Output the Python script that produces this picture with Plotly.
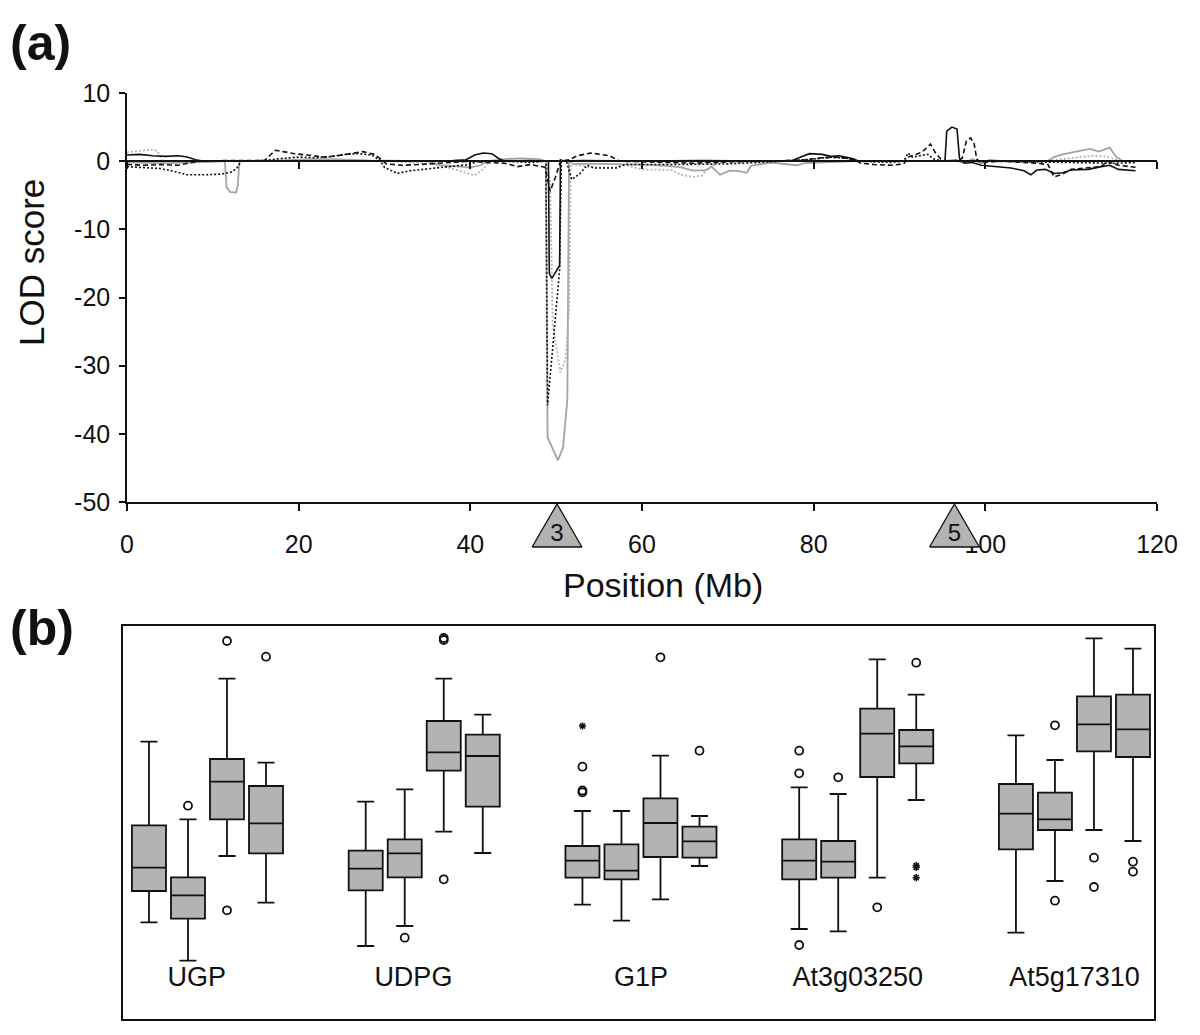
import plotly.graph_objects as go

# ---------------- Panel (a): LOD profiles ----------------
# solid black
pos_a = [0, 1.5, 3, 4.5, 6, 7, 8, 9, 20, 30, 38, 39.5, 40.5, 41.5, 42.5, 43.3, 44, 47, 49.1, 49.2, 49.5, 50.4, 50.5, 51,
         53, 60, 67, 75, 77.5, 78.5, 79.5, 81, 82, 83, 84.5, 85.3, 90, 95.3, 95.5, 96.1, 96.7, 97.0, 97.6, 98.5, 99.5,
         101, 103, 104.5, 105.3, 106, 107, 108, 109, 110, 112, 113.5, 114.5, 115.5, 117.5]
lod_a = [0.9, 1.0, 0.8, 0.7, 0.8, 0.6, 0.2, 0, 0, 0, 0.1, 0.2, 0.9, 1.2, 1.1, 0.4, 0, 0.1, 0, -16.5, -17.2, -15.3, 0.2, 0,
         0.1, 0, 0.1, 0, 0.1, 0.6, 1.1, 1.0, 0.7, 0.8, 0.4, 0, 0, 0, 4.4, 5.0, 4.7, 0.3, -0.3, -0.2, -0.6,
         -0.8, -1.0, -1.4, -2.0, -1.3, -1.2, -1.8, -1.7, -1.3, -1.2, -0.8, -0.6, -1.2, -1.4]

# dashed black
pos_b = [0, 2, 4, 6, 7.5, 8.5, 12, 16, 16.7, 17.3, 18.2, 19.5, 21, 23, 24.5, 26, 27.5, 28.8, 29.7, 30.2, 32, 34, 36, 38,
         40, 42, 44, 45.5, 47, 48.7, 49.3, 49.9, 50.5, 51.5, 52.5, 54, 55, 56.2, 57.4, 62, 66, 70, 75, 79, 81, 83, 84.5,
         85.5, 87, 89, 90.5, 91, 91.8, 92.6, 93.6, 94.2, 94.8, 95.5, 96.5, 97.3, 97.8, 98.3, 98.7, 99.0, 99.5, 102, 106,
         107.3, 108, 108.8, 110, 112, 113.5, 114.2, 115.5, 117.5]
lod_b = [-0.5, -0.6, -0.5, -0.6, -0.2, 0, 0.1, 0.1, 0.9, 1.6, 1.4, 1.1, 0.9, 0.6, 0.8, 1.1, 1.4, 1.0, 0.2, -0.4, -0.6,
         -0.5, -0.3, -0.1, 0, -0.2, -0.3, -0.8, -0.5, -0.9, -4.4, -2.4, 0, 0.2, 0.8, 1.2, 1.0, 0.8, 0, -0.2, -0.3, -0.1,
         0, 0.2, 0.5, 0.6, 0.3, -0.3, -0.5, -0.6, -0.4, 0.6, 0.9, 1.3, 2.5, 1.2, 0.3, 0, 0.1, 0.4, 3.0, 3.4, 2.5, 0.3,
         -0.2, 0, -0.3, -0.5, -2.3, -2.0, -1.2, -1.0, -0.8, 0, -0.6, -0.9]

# dotted black
pos_c = [0, 2, 4, 5.5, 7, 9, 11, 12.2, 12.8, 13.3, 16, 18, 20, 22, 24, 25.5, 27, 28.5, 29.4, 30, 31.5, 33, 34.7, 37, 39.8,
         41, 44, 47, 48.8, 49.0, 50.4, 50.6, 51.2, 51.8, 52.8, 53.6, 54.5, 57, 58, 64, 70, 75, 80, 82, 84, 85, 89, 90.5,
         91, 91.5, 92.5, 93.3, 94, 95, 100, 105, 110, 115, 117.5]
lod_c = [-0.8, -0.9, -1.1, -1.5, -2.0, -2.0, -1.9, -1.6, -1.0, 0, 0.1, 0.4, 0.6, 0.5, 0.7, 1.0, 1.1, 0.9, 0.2, -0.9, -1.8,
         -1.4, -1.2, -0.9, -0.5, 0, 0, -0.2, 0, -35.8, -16, 0, 0, -2.7, -1.8, -0.6, -1.0, -1.0, -0.5, -0.5, -0.4, -0.1,
         0.3, 0.6, 0.4, 0, -0.2, 0, 1.2, 0.6, 0.8, 1.0, 0.3, 0, 0, -0.1, -0.2, -0.3, -0.2]

# solid grey
pos_d = [0, 5, 10, 11.4, 11.6, 12.0, 12.7, 12.9, 13.1, 18, 21, 24, 28, 35, 36.5, 38, 40, 41.2, 42, 44, 46, 48, 48.8, 49.0,
         50.2, 50.8, 51.3, 51.5, 52, 55, 60, 63, 64.5, 66, 67.5, 68.1, 69.1, 70.2, 71.5, 72.2, 72.7, 75, 77, 78, 79, 82,
         85, 90, 95, 96.5, 97.5, 98.5, 99.5, 100.5, 102, 107.2, 108, 109, 110, 111, 112.2, 113.2, 114.5, 115.2, 116,
         117.5]
lod_d = [-0.2, -0.3, -0.1, 0, -3.8, -4.5, -4.6, -3.6, 0, 0.1, 0.3, 0.3, 0.1, 0, -0.6, -0.7, -0.9, -0.6, 0, 0.3, 0.4, 0.3,
         0, -40.5, -43.9, -42, -35, 0, -0.4, -0.4, -0.5, -0.7, -0.9, -1.4, -1.3, -0.8, -2.0, -1.4, -1.5, -1.7, -0.7,
         -0.2, -0.4, -0.6, -0.3, -0.1, 0, 0, 0, 0.2, -0.3, 0.3, -0.3, 0.2, 0, 0, 0.6, 1.0, 1.3, 1.5, 1.8, 1.4, 2.0, 0.7,
         0, 0]

# dotted grey
pos_e = [0, 1.5, 3, 3.5, 4.2, 8, 15, 18, 21, 25, 30, 35, 37, 39, 40.5, 41.5, 42.2, 48.8, 49.3, 49.6, 50.5, 51.1, 51.5,
         51.7, 52, 54, 57, 58, 60, 63.5, 64.5, 66, 67, 67.5, 68.7, 70, 80, 90, 95, 100, 105, 107, 109, 111, 112.5, 114,
         115, 116, 117.5]
lod_e = [1.3, 1.5, 1.7, 1.5, 0, 0, 0, 0.3, 0.2, 0.1, 0, -0.3, -0.8, -1.5, -2.1, -1.2, 0, 0, -3, -24, -31, -29, -22, 0,
         -0.5, -0.9, -0.9, -0.6, -1.2, -1.3, -2.0, -2.3, -2.1, -1.2, -0.3, 0, 0, 0.1, 0, 0, 0, 0, 0.3, 0.6, 0.8, 0.7,
         0.3, 0, 0]

x_ticks = [0, 20, 40, 60, 80, 100, 120]
y_ticks = [-50, -40, -30, -20, -10, 0, 10]
y_tick_text = ["-50", "-40", "-30", "-20", "-10", "0", "10"]

# QTL markers (chromosome labels)
qtl_pos = [50.1, 96.4]
qtl_lab = ["3", "5"]

# ---------------- Panel (b): box plots ----------------
genes = ["UGP", "UDPG", "G1P", "At3g03250", "At5g17310"]
q1 = [128, 100.3, 199.7, 165.7,
      128.7, 141.7, 248.3, 212.3,
      141.3, 139.7, 162, 161.3,
      139.7, 141.3, 242, 255.7,
      169.7, 189, 267.7, 262]
med = [151.3, 123.7, 237.3, 195.7,
       150.3, 165.7, 266.7, 263,
       158.3, 148.3, 196, 177.7,
       158.3, 157.3, 285.3, 272.7,
       205.3, 199.7, 294.7, 289.7]
q3 = [193.7, 141.7, 260, 233,
      168.3, 179.7, 298, 284.3,
      173, 174.7, 220.7, 192.3,
      179.7, 178, 310.3, 289,
      235, 226.3, 322.7, 324.3]
lo = [96.7, 58.3, 163, 116.3,
      73, 93, 187.3, 166,
      114.3, 98.3, 119.7, 153,
      90, 87.7, 141.3, 219,
      86.3, 138, 189, 178]
hi = [277.3, 199.7, 340.3, 256.3,
      217.3, 229.7, 340.3, 304.3,
      208, 208, 263.3, 203,
      231.7, 225, 359.7, 324.3,
      283.7, 259, 380.7, 370.3]
# outliers (open circles): index of box, value
out_box = [1, 2, 2, 3, 5, 6, 6, 6, 8, 8, 8, 10, 11, 12, 12, 12, 13, 14, 15, 17, 17, 18, 18, 19, 19]
out_val = [213.3, 378, 108.7, 362.3, 81.3, 379, 381, 139.7, 252.3, 226.7, 228.5, 361.7, 268.3, 268.3, 245.7, 74,
           241.7, 111.7, 356.3, 293.7, 118.3, 161.3, 132, 157.3, 147.3]
# extremes (asterisks)
ext_box = [8, 15, 15, 15]
ext_val = [293, 151.7, 153.5, 141.3]

W, H = 1200, 1035
fontfam = "Liberation Sans, Arial, sans-serif"

xa_dom = [127 / W, 1157 / W]
ya_dom = [(H - 502) / H, (H - 93) / H]
xb_dom = [123 / W, 1154 / W]
yb_dom = [(H - 1019) / H, (H - 626) / H]
ytri_dom = [(H - 549) / H, (H - 502) / H]

fig = go.Figure()

black = "#111111"
grey = "#a3a3a3"
lgrey = "#b5b5b5"

series = [
    (pos_d, lod_d, dict(color=grey, width=1.8, dash="solid")),
    (pos_e, lod_e, dict(color=lgrey, width=1.8, dash="2px,2px")),
    (pos_c, lod_c, dict(color=black, width=1.6, dash="2px,2px")),
    (pos_b, lod_b, dict(color=black, width=1.6, dash="5px,3px")),
    (pos_a, lod_a, dict(color=black, width=1.6, dash="solid")),
]
for xs, ys, ln in series:
    fig.add_trace(go.Scatter(x=xs, y=ys, mode="lines", line=ln, xaxis="x", yaxis="y",
                             showlegend=False, hoverinfo="skip"))

# invisible trace to instantiate the zero-line axis
fig.add_trace(go.Scatter(x=pos_a, y=lod_a, mode="lines", line=dict(width=0), opacity=0,
                         xaxis="x2", yaxis="y", showlegend=False, hoverinfo="skip"))

# QTL triangles
half_w = 2.9
for p, lab in zip(qtl_pos, qtl_lab):
    fig.add_trace(go.Scatter(x=[p - half_w, p, p + half_w, p - half_w], y=[2, 45, 2, 2],
                             mode="lines", fill="toself", fillcolor="#b3b3b3",
                             line=dict(color=black, width=1.3), xaxis="x3", yaxis="y3",
                             showlegend=False, hoverinfo="skip"))
fig.add_trace(go.Scatter(x=qtl_pos, y=[14, 14], mode="text", text=qtl_lab,
                         textfont=dict(size=24, color=black, family=fontfam),
                         xaxis="x3", yaxis="y3", showlegend=False, hoverinfo="skip"))

# Box plot positions
box_step = 0.18
box_x = [g + (k - 1.5) * box_step for g in range(len(genes)) for k in range(4)]
label_shift = [-0.05, -0.05, 0, 0, 0]
fig.add_trace(go.Box(x=box_x, q1=q1, median=med, q3=q3, lowerfence=lo, upperfence=hi,
                     width=0.157, whiskerwidth=0.5, fillcolor="#b3b3b3",
                     line=dict(color=black, width=1.8), boxpoints=False,
                     xaxis="x4", yaxis="y4", showlegend=False, hoverinfo="skip"))
fig.add_trace(go.Scatter(x=[box_x[i] for i in out_box], y=out_val, mode="markers",
                         marker=dict(symbol="circle-open", size=8, color=black, line=dict(width=1.8)),
                         xaxis="x4", yaxis="y4", showlegend=False, hoverinfo="skip"))
fig.add_trace(go.Scatter(x=[box_x[i] for i in ext_box], y=ext_val, mode="markers",
                         marker=dict(symbol="asterisk-open", size=6, color=black, line=dict(width=1.6)),
                         xaxis="x4", yaxis="y4", showlegend=False, hoverinfo="skip"))
fig.add_trace(go.Scatter(x=[g + s for g, s in zip(range(len(genes)), label_shift)], y=[40] * len(genes),
                         mode="text", text=genes,
                         textfont=dict(size=27, color=black, family=fontfam),
                         xaxis="x4", yaxis="y4", showlegend=False, hoverinfo="skip"))

zero_pos = ya_dom[0] + (0 - (-50)) / 60 * (ya_dom[1] - ya_dom[0])

fig.update_layout(
    width=W, height=H, margin=dict(l=0, r=0, t=0, b=0),
    paper_bgcolor="white", plot_bgcolor="rgba(0,0,0,0)",
    font=dict(family=fontfam, color=black),
    xaxis=dict(domain=xa_dom, range=[0, 120], tickvals=x_ticks, ticks="outside", ticklen=7,
               tickwidth=1.5, tickcolor=black, showline=True, linecolor=black, linewidth=1.5,
               showgrid=False, zeroline=False, anchor="y", automargin=False,
               tickfont=dict(size=25, color=black), ticklabelstandoff=12),
    xaxis2=dict(overlaying="x", range=[0, 120], anchor="free", position=zero_pos, tickvals=x_ticks,
                ticks="outside", ticklen=7, tickwidth=1.5, tickcolor=black, showline=True,
                linecolor=black, linewidth=1.5, showticklabels=False, showgrid=False, zeroline=False,
                automargin=False),
    yaxis=dict(domain=ya_dom, range=[-50, 10], tickvals=y_ticks, ticktext=y_tick_text, ticks="outside",
               ticklen=6, tickwidth=1.5, tickcolor=black, showline=True, linecolor=black, linewidth=1.5,
               showgrid=False, zeroline=False, anchor="x", automargin=False,
               tickfont=dict(size=25, color=black), ticklabelstandoff=4),
    xaxis3=dict(domain=xa_dom, range=[0, 120], visible=False, anchor="y3"),
    yaxis3=dict(domain=ytri_dom, range=[0, 47], visible=False, anchor="x3"),
    xaxis4=dict(domain=xb_dom, range=[-0.3898, 4.367], showline=True, mirror=True, linecolor=black,
                linewidth=1.5, ticks="", showticklabels=False, showgrid=False, zeroline=False,
                anchor="y4", automargin=False),
    yaxis4=dict(domain=yb_dom, range=[0, 393], showline=True, mirror=True, linecolor=black,
                linewidth=1.5, ticks="", showticklabels=False, showgrid=False, zeroline=False,
                anchor="x4", automargin=False),
    annotations=[
        dict(text="<b>(a)</b>", x=8 / W, y=(H - 43) / H, xref="paper", yref="paper", xanchor="left",
             yanchor="middle", showarrow=False, font=dict(size=50, color=black)),
        dict(text="<b>(b)</b>", x=8 / W, y=(H - 628) / H, xref="paper", yref="paper", xanchor="left",
             yanchor="middle", showarrow=False, font=dict(size=50, color=black)),
        dict(text="LOD score", x=32 / W, y=(H - 263) / H, xref="paper", yref="paper", textangle=-90,
             xanchor="center", yanchor="middle", showarrow=False, font=dict(size=35, color=black)),
        dict(text="Position (Mb)", x=663 / W, y=(H - 585) / H, xref="paper", yref="paper",
             xanchor="center", yanchor="middle", showarrow=False, font=dict(size=34, color=black)),
    ],
)

fig.write_html("out.html", post_script="document.body.style.margin='0';",
               config={"displayModeBar": False})
